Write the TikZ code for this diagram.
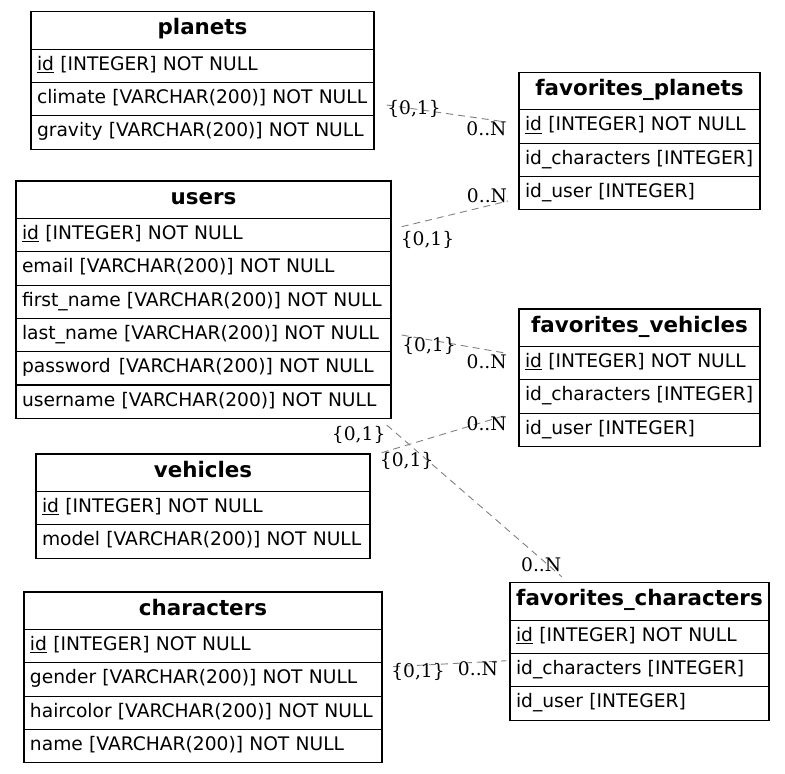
\documentclass[tikz,border=0pt]{standalone}
\usepackage{fontspec}
\setmainfont{DejaVu Sans}
\newfontfamily\cardfont{DejaVu Serif}
% primary key: text with a thin rule just under the baseline
\newcommand\pkey[1]{\setbox0\hbox{#1}\rlap{\rule[-2.3pt]{\wd0}{0.7pt}}\box0\relax}
\begin{document}
\begin{tikzpicture}[x=1pt,y=-1pt,
  tblline/.style={draw=black, line width=1.1pt, outer sep=0pt},
  hdr/.style={tblline, anchor=north west, inner xsep=6pt, inner ysep=0pt,
    minimum height=37.5pt, text height=13.5pt, text depth=4.5pt, align=center,
    font=\fontsize{21.4pt}{25pt}\selectfont\bfseries},
  fld/.style={tblline, anchor=north west, inner xsep=6pt, inner ysep=0pt,
    minimum height=33.3pt, text height=13.5pt, text depth=4.5pt,
    font=\fontsize{18.67pt}{22pt}\selectfont,
    execute at begin node={\hbox to 0pt\bgroup},
    execute at end node={\hss\egroup}},
  rel/.style={draw=black!50, line width=0.9pt, dash pattern=on 7pt off 5pt},
  card/.style={anchor=base, inner sep=0pt,
    font=\cardfont\fontsize{18.67pt}{22pt}\selectfont}
]
\useasboundingbox (0,0) rectangle (785,774);

% ---------- planets ----------
\begin{scope}[nodes={text width=331pt}]
\node[hdr] (planets) at (31,11.7) {planets};
\node[fld] (planets-id) at (planets.south west) {\pkey{id} [INTEGER] NOT NULL};
\node[fld] (planets-climate) at (planets-id.south west) {climate [VARCHAR(200)] NOT NULL};
\node[fld] (planets-gravity) at (planets-climate.south west) {gravity [VARCHAR(200)] NOT NULL};
\end{scope}

% ---------- favorites_planets ----------
\begin{scope}[nodes={text width=229pt}]
\node[hdr] (favp) at (519,72.3) {favorites\_planets};
\node[fld] (favp-id) at (favp.south west) {\pkey{id} [INTEGER] NOT NULL};
\node[fld] (favp-char) at (favp-id.south west) {id\_characters [INTEGER]};
\node[fld] (favp-user) at (favp-char.south west) {id\_user [INTEGER]};
\end{scope}

% ---------- users ----------
\begin{scope}[nodes={text width=363pt}]
\node[hdr] (users) at (16,181) {users};
\node[fld] (users-id) at (users.south west) {\pkey{id} [INTEGER] NOT NULL};
\node[fld] (users-email) at (users-id.south west) {email [VARCHAR(200)] NOT NULL};
\node[fld] (users-first) at (users-email.south west) {first\_name [VARCHAR(200)] NOT NULL};
\node[fld] (users-last) at (users-first.south west) {last\_name [VARCHAR(200)] NOT NULL};
\node[fld] (users-pw) at (users-last.south west) {password\hspace{2pt} [VARCHAR(200)] NOT NULL};
\node[fld] (users-name) at (users-pw.south west) {username [VARCHAR(200)] NOT NULL};
\end{scope}

% ---------- favorites_vehicles ----------
\begin{scope}[nodes={text width=229pt}]
\node[hdr] (favv) at (519,309) {favorites\_vehicles};
\node[fld] (favv-id) at (favv.south west) {\pkey{id} [INTEGER] NOT NULL};
\node[fld] (favv-char) at (favv-id.south west) {id\_characters [INTEGER]};
\node[fld] (favv-user) at (favv-char.south west) {id\_user [INTEGER]};
\end{scope}

% ---------- vehicles ----------
\begin{scope}[nodes={text width=322pt}]
\node[hdr] (vehicles) at (36,454) {vehicles};
\node[fld] (vehicles-id) at (vehicles.south west) {\pkey{id} [INTEGER] NOT NULL};
\node[fld] (vehicles-model) at (vehicles-id.south west) {model [VARCHAR(200)] NOT NULL};
\end{scope}

% ---------- characters ----------
\begin{scope}[nodes={text width=346pt}]
\node[hdr] (characters) at (24,592) {characters};
\node[fld] (characters-id) at (characters.south west) {\pkey{id} [INTEGER] NOT NULL};
\node[fld] (characters-gender) at (characters-id.south west) {gender [VARCHAR(200)] NOT NULL};
\node[fld] (characters-hair) at (characters-gender.south west) {haircolor [VARCHAR(200)] NOT NULL};
\node[fld] (characters-name) at (characters-hair.south west) {name [VARCHAR(200)] NOT NULL};
\end{scope}

% ---------- favorites_characters ----------
\begin{scope}[nodes={text width=247pt}]
\node[hdr] (favc) at (510,582.7) {favorites\_characters};
\node[fld] (favc-id) at (favc.south west) {\pkey{id} [INTEGER] NOT NULL};
\node[fld] (favc-char) at (favc-id.south west) {id\_characters [INTEGER]};
\node[fld] (favc-user) at (favc-char.south west) {id\_user [INTEGER]};
\end{scope}

% ---------- relationship end points ----------
\coordinate (planets-rel) at (386.7,105);
\coordinate (favp-rel-planet) at (506,122);
\coordinate (users-rel-favp) at (401.7,226.7);
\coordinate (favp-rel-user) at (508,201);
\coordinate (users-rel-favv) at (401.7,335);
\coordinate (favv-rel-user) at (506.7,353.3);
\coordinate (vehicles-rel) at (381.7,452.7);
\coordinate (favv-rel-vehicle) at (506.7,415);
\coordinate (users-rel-favc) at (386.7,425);
\coordinate (favc-rel-user) at (561.7,576.7);
\coordinate (characters-rel) at (393,666.7);
\coordinate (favc-rel-char) at (506.7,660.7);

% ---------- relationships ----------
\draw[rel] (planets-rel) -- (favp-rel-planet);
\draw[rel] (users-rel-favp) -- (favp-rel-user);
\draw[rel] (users-rel-favv) -- (favv-rel-user);
\draw[rel] (vehicles-rel) -- (favv-rel-vehicle);
\draw[rel] (users-rel-favc) -- (favc-rel-user);
\draw[rel] (characters-rel) -- (favc-rel-char);

% ---------- cardinalities ----------
\node[card] (c-planets) at (414,114) {\{0,1\}};
\node[card] (c-favp-planet) at (486.5,135.7) {0..N};
\node[card] (c-favp-user) at (487,202.7) {0..N};
\node[card] (c-users-favp) at (427.5,245) {\{0,1\}};
\node[card] (c-users-favv) at (429,351) {\{0,1\}};
\node[card] (c-favv-user) at (486.7,368.3) {0..N};
\node[card] (c-favv-vehicle) at (486.7,430) {0..N};
\node[card] (c-vehicles) at (406.7,466.7) {\{0,1\}};
\node[card] (c-users-favc) at (358.7,440) {\{0,1\}};
\node[card] (c-favc-user) at (541.2,571.7) {0..N};
\node[card] (c-characters) at (418,677.3) {\{0,1\}};
\node[card] (c-favc-char) at (478,675) {0..N};
\end{tikzpicture}
\end{document}
